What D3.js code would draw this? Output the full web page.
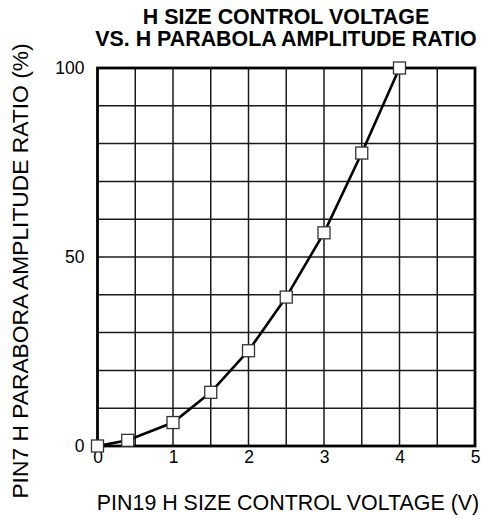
<!DOCTYPE html>
<html>
<head>
<meta charset="utf-8">
<script src="https://cdn.jsdelivr.net/npm/d3@7/dist/d3.min.js"></script>
<style>
html,body{margin:0;padding:0;background:#fff;}
svg{display:block;}
text{font-family:"Liberation Sans", Arial, sans-serif;fill:#000;}
</style>
</head>
<body>
<svg id="chart" width="482" height="519"></svg>
<script>
const voltage = [0, 0.4, 1, 1.5, 2, 2.5, 3, 3.5, 4];
const ratio = [0, 1.5, 6.2, 14.2, 25.2, 39.4, 56.4, 77.5, 100];
const xTicks = [0, 1, 2, 3, 4, 5];
const yTicks = [0, 50, 100];
const titleLines = ["H SIZE CONTROL VOLTAGE", "VS. H PARABOLA AMPLITUDE RATIO"];
const xLabel = "PIN19 H SIZE CONTROL VOLTAGE (V)";
const yLabel = "PIN7 H PARABORA AMPLITUDE RATIO (%)";

const svg = d3.select("#chart");
const L = 97.5, R = 475, T = 68, B = 446;
const x = d3.scaleLinear().domain([0, 5]).range([L, R]);
const y = d3.scaleLinear().domain([0, 100]).range([B, T]);

// grid
const g = svg.append("g");
g.selectAll("line.v").data(d3.range(0.5, 5, 0.5)).enter().append("line")
  .attr("x1", d => x(d)).attr("x2", d => x(d)).attr("y1", T).attr("y2", B)
  .attr("stroke", "#1a1a1a").attr("stroke-width", 1.5);
g.selectAll("line.h").data(d3.range(10, 100, 10)).enter().append("line")
  .attr("y1", d => y(d)).attr("y2", d => y(d)).attr("x1", L).attr("x2", R)
  .attr("stroke", "#1a1a1a").attr("stroke-width", 1.5);

// frame
svg.append("rect").attr("x", L).attr("y", T).attr("width", R - L).attr("height", B - T)
  .attr("fill", "none").attr("stroke", "#000").attr("stroke-width", 2.8);

// axes tick labels
const xAxis = d3.axisBottom(x).tickValues(xTicks).tickSize(0).tickPadding(5).tickFormat(d3.format("d"));
const xg = svg.append("g").attr("transform", `translate(0,${B})`).call(xAxis);
xg.select(".domain").remove();
xg.selectAll("text").attr("font-size", 17.5).attr("font-family", "Liberation Sans, Arial, sans-serif");

const yAxis = d3.axisLeft(y).tickValues(yTicks).tickSize(0).tickPadding(13).tickFormat(d3.format("d"));
const yg = svg.append("g").attr("transform", `translate(${L},0)`).call(yAxis);
yg.select(".domain").remove();
yg.selectAll("text").attr("font-size", 17.5).attr("font-family", "Liberation Sans, Arial, sans-serif");

// line
const pts = voltage.map((v, i) => [v, ratio[i]]);
svg.append("path").datum(pts)
  .attr("d", d3.line().x(d => x(d[0])).y(d => y(d[1])))
  .attr("fill", "none").attr("stroke", "#000").attr("stroke-width", 2.6);

// markers
const s = 12;
svg.selectAll("rect.m").data(pts).enter().append("rect")
  .attr("x", d => x(d[0]) - s / 2).attr("y", d => y(d[1]) - s / 2)
  .attr("width", s).attr("height", s)
  .attr("fill", "#fff").attr("stroke", "#333").attr("stroke-width", 1.3);

// title
svg.append("text").attr("x", 286).attr("y", 24).attr("text-anchor", "middle")
  .attr("font-size", 21.4).attr("font-weight", "bold").text(titleLines[0]);
svg.append("text").attr("x", 286).attr("y", 46).attr("text-anchor", "middle")
  .attr("font-size", 21.4).attr("font-weight", "bold").text(titleLines[1]);

// axis labels
svg.append("text").attr("x", 288).attr("y", 510).attr("text-anchor", "middle")
  .attr("font-size", 21.4).text(xLabel);
svg.append("text").attr("transform", "translate(28,271) rotate(-90)").attr("text-anchor", "middle")
  .attr("font-size", 22.8).text(yLabel);
</script>
</body>
</html>
